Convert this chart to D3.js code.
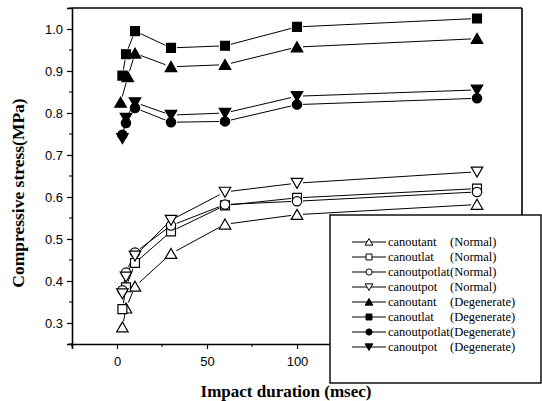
<!DOCTYPE html>
<html>
<head>
<meta charset="utf-8">
<script src="https://cdn.jsdelivr.net/npm/d3@7"></script>
<style>
  body { margin: 0; background: #fff; }
  svg { display: block; }
</style>
</head>
<body>
<div class="chart"></div>
<script>
var NS = {}; // namespace for layout stuff
NS.width = 542
NS.height = 401
NS.margin = {left: 72, right: 20, top: 8, bottom: 57}

// impact duration (msec)
var durations = [3, 5, 10, 30, 60, 100, 200]
var durationsTriDeg = [2, 6, 10, 30, 60, 100, 200]

// compressive stress (MPa)
var antNormal    = [0.290, 0.335, 0.387, 0.465, 0.535, 0.558, 0.582]
var latNormal    = [0.333, 0.385, 0.443, 0.518, 0.580, 0.598, 0.620]
var potlatNormal = [0.378, 0.420, 0.468, 0.532, 0.582, 0.590, 0.612]
var potNormal    = [0.370, 0.410, 0.460, 0.545, 0.612, 0.633, 0.660]
var antDeg       = [0.825, 0.886, 0.942, 0.910, 0.915, 0.957, 0.977]
var latDeg       = [0.889, 0.940, 0.995, 0.955, 0.960, 1.005, 1.025]
var potlatDeg    = [0.748, 0.776, 0.812, 0.778, 0.780, 0.820, 0.835]
var potDeg       = [0.740, 0.788, 0.825, 0.795, 0.800, 0.840, 0.855]

var seriesNames = ["canoutant", "canoutlat", "canoutpotlat", "canoutpot",
                   "canoutant", "canoutlat", "canoutpotlat", "canoutpot"]
var seriesGroups = ["(Normal)", "(Normal)", "(Normal)", "(Normal)",
                    "(Degenerate)", "(Degenerate)", "(Degenerate)", "(Degenerate)"]
var seriesSymbols = ["tri", "square", "circle", "dtri", "tri", "square", "circle", "dtri"]
var seriesFilled = [false, false, false, false, true, true, true, true]
var seriesValues = [antNormal, latNormal, potlatNormal, potNormal, antDeg, latDeg, potlatDeg, potDeg]
var seriesX = [durations, durations, durations, durations, durationsTriDeg, durations, durations, durations]

var xTicks = [0, 50, 100, 150, 200]
var yTicks = [0.3, 0.4, 0.5, 0.6, 0.7, 0.8, 0.9, 1.0]

var svg = d3.select(".chart").append("svg")
  .attr("width", NS.width)
  .attr("height", NS.height)

var x = d3.scaleLinear().domain([-25, 225])
  .range([NS.margin.left, NS.width - NS.margin.right])
var y = d3.scaleLinear().domain([0.25, 1.05])
  .range([NS.height - NS.margin.bottom, NS.margin.top])

// marker shapes, centred at 0,0, s = overall size
function markerPath(kind, s) {
  if (kind == "tri")
    return "M0," + (-s*0.5) + "L" + (s*0.55) + "," + (s*0.45) + "L" + (-s*0.55) + "," + (s*0.45) + "Z"
  if (kind == "dtri")
    return "M" + (-s*0.55) + "," + (-s*0.45) + "L" + (s*0.55) + "," + (-s*0.45) + "L0," + (s*0.5) + "Z"
  if (kind == "square") return d3.symbol(d3.symbolSquare, s * s * 0.72)()
  return d3.symbol(d3.symbolCircle, s * s * 0.62)()
}

// axes
var xAxis = d3.axisBottom(x).tickValues(xTicks).tickSize(5).tickPadding(8)
  .tickFormat(d3.format("d"))
var yAxis = d3.axisLeft(y).tickValues(yTicks).tickSize(5).tickPadding(4)
  .tickFormat(d3.format(".1f"))

var gx = svg.append("g")
  .attr("transform", "translate(0," + y.range()[0] + ")")
  .call(xAxis)
var gy = svg.append("g")
  .attr("transform", "translate(" + x.range()[0] + ",0)")
  .call(yAxis)

// minor ticks
var xMinor = d3.range(-25, 226, 50)
gx.selectAll(".minor").data(xMinor).enter().append("line")
  .attr("class", "minor")
  .attr("x1", function(d) { return x(d) }).attr("x2", function(d) { return x(d) })
  .attr("y1", 0).attr("y2", 3).attr("stroke", "#000")
var yMinor = d3.range(0.25, 1.06, 0.1)
gy.selectAll(".minor").data(yMinor).enter().append("line")
  .attr("class", "minor")
  .attr("y1", function(d) { return y(d) }).attr("y2", function(d) { return y(d) })
  .attr("x1", 0).attr("x2", -3).attr("stroke", "#000")

svg.selectAll(".domain").attr("stroke", "#000").attr("stroke-width", 1.6)
svg.selectAll(".tick line").attr("stroke-width", 1.2)
svg.selectAll(".tick text")
  .style("font-family", "'Liberation Sans', Arial, sans-serif")
  .style("font-size", "13px")
  .attr("fill", "#000")

// top and right frame
svg.append("line")
  .attr("x1", x.range()[0]).attr("x2", x.range()[1])
  .attr("y1", y.range()[1]).attr("y2", y.range()[1])
  .attr("stroke", "#000").attr("stroke-width", 1.6)
svg.append("line")
  .attr("x1", x.range()[1]).attr("x2", x.range()[1])
  .attr("y1", y.range()[1]).attr("y2", y.range()[0])
  .attr("stroke", "#000").attr("stroke-width", 1.6)

// data lines - shortened so they stop short of the symbols (Origin style)
var gap = 6
var plot = svg.append("g")
seriesValues.forEach(function(vals, i) {
  var xs = seriesX[i]
  var pts = vals.map(function(v, j) { return [x(xs[j]), y(v)] })
  for (var j = 0; j < pts.length - 1; j++) {
    var a = pts[j], b = pts[j + 1]
    var dx = b[0] - a[0], dy = b[1] - a[1]
    var len = Math.sqrt(dx * dx + dy * dy)
    if (len <= gap * 2) continue
    var ux = dx / len, uy = dy / len
    plot.append("line")
      .attr("x1", a[0] + ux * gap).attr("y1", a[1] + uy * gap)
      .attr("x2", b[0] - ux * gap).attr("y2", b[1] - uy * gap)
      .attr("stroke", "#000").attr("stroke-width", 1)
  }
})
seriesValues.forEach(function(vals, i) {
  var xs = seriesX[i]
  plot.selectAll(".s" + i).data(vals).enter().append("path")
    .attr("class", "s" + i)
    .attr("d", markerPath(seriesSymbols[i], 10.5))
    .attr("transform", function(d, j) { return "translate(" + x(xs[j]) + "," + y(d) + ")" })
    .attr("fill", seriesFilled[i] ? "#000" : "#fff")
    .attr("stroke", "#000")
    .attr("stroke-width", 1.2)
})

// axis titles
svg.append("text")
  .attr("transform", "translate(24,193) rotate(-90)")
  .attr("text-anchor", "middle")
  .style("font-family", "'Liberation Serif', 'Times New Roman', serif")
  .style("font-weight", "bold")
  .style("font-size", "17.5px")
  .text("Compressive stress(MPa)")
svg.append("text")
  .attr("x", 286).attr("y", 397)
  .attr("text-anchor", "middle")
  .style("font-family", "'Liberation Serif', 'Times New Roman', serif")
  .style("font-weight", "bold")
  .style("font-size", "17px")
  .text("Impact duration (msec)")

// legend
var legend = svg.append("g").attr("transform", "translate(330,215)")
legend.append("rect")
  .attr("width", 211).attr("height", 168)
  .attr("fill", "#fff").attr("stroke", "#000").attr("stroke-width", 1.4)
var rows = legend.selectAll(".row").data(seriesNames).enter().append("g")
  .attr("class", "row")
  .attr("transform", function(d, i) { return "translate(0," + (27 + i * 15) + ")" })
rows.append("line")
  .attr("x1", 22).attr("x2", 56).attr("y1", 0).attr("y2", 0)
  .attr("stroke", "#000").attr("stroke-width", 1)
rows.append("path")
  .attr("d", function(d, i) { return markerPath(seriesSymbols[i], 7) })
  .attr("transform", "translate(39,0)")
  .attr("fill", function(d, i) { return seriesFilled[i] ? "#000" : "#fff" })
  .attr("stroke", "#000").attr("stroke-width", 1)
rows.append("text")
  .attr("x", 58).attr("y", 4)
  .style("font-family", "'Liberation Serif', 'Times New Roman', serif")
  .style("font-size", "12.5px")
  .text(function(d) { return d })
rows.append("text")
  .attr("x", 120).attr("y", 4)
  .style("font-family", "'Liberation Serif', 'Times New Roman', serif")
  .style("font-size", "12.5px")
  .text(function(d, i) { return seriesGroups[i] })
</script>
</body>
</html>
